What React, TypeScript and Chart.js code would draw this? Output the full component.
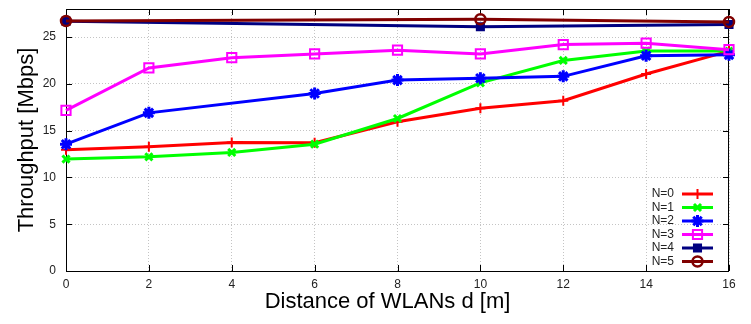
import React, { useEffect, useRef } from "react";
import { Chart, registerables } from "chart.js";
import { drawPoint } from "chart.js/helpers";

Chart.register(...registerables);

// ---- data ----
const distances = [0, 2, 4, 6, 8, 10, 12, 14, 16];
const distancesN2 = [0, 2, 6, 8, 10, 12, 14, 16];
const distancesN45 = [0, 10, 16];

const throughputN0 = [12.95, 13.27, 13.73, 13.7, 15.95, 17.4, 18.2, 21.05, 23.5];
const throughputN1 = [11.96, 12.2, 12.67, 13.55, 16.3, 20.1, 22.5, 23.5, 23.5];
const throughputN2 = [13.55, 16.9, 18.97, 20.4, 20.6, 20.8, 23.0, 23.1];
const throughputN3 = [17.17, 21.7, 22.8, 23.2, 23.6, 23.2, 24.2, 24.35, 23.65];
const throughputN4 = [26.7, 26.1, 26.35];
const throughputN5 = [26.72, 26.9, 26.62];

const seriesLabels = ["N=0", "N=1", "N=2", "N=3", "N=4", "N=5"];
const xTitle = "Distance of WLANs d [m]";
const yTitle = "Throughput [Mbps]";

const toPoints = (xs: number[], ys: number[]) => xs.map((x, i) => ({ x, y: ys[i] }));

const seriesDefs = [
  { xs: distances, ys: throughputN0, color: "#ff0000", style: "cross", r: 5, fill: "#ff0000", bw: 2 },
  { xs: distances, ys: throughputN1, color: "#00ff00", style: "crossRot", r: 5, fill: "#00ff00", bw: 3 },
  { xs: distancesN2, ys: throughputN2, color: "#0000ff", style: "star", r: 6, fill: "#0000ff", bw: 3 },
  { xs: distances, ys: throughputN3, color: "#ff00ff", style: "rect", r: 6.5, fill: "rgba(0,0,0,0)", bw: 2 },
  { xs: distancesN45, ys: throughputN4, color: "#000080", style: "rect", r: 5, fill: "#000080", bw: 2 },
  { xs: distancesN45, ys: throughputN5, color: "#800000", style: "circle", r: 5, fill: "rgba(0,0,0,0)", bw: 2.5 },
];

const FONT = '"Liberation Sans", Arial, sans-serif';

const framePlugin = {
  id: "frame",
  beforeDatasetsDraw(chart: any) {
    const { ctx, chartArea: a, scales } = chart;
    ctx.save();
    ctx.strokeStyle = "#000";
    ctx.lineWidth = 1;
    ctx.beginPath();
    const tl = 6;
    scales.x.ticks.forEach((t: any) => {
      const px = Math.round(scales.x.getPixelForValue(t.value)) + 0.5;
      ctx.moveTo(px, a.bottom);
      ctx.lineTo(px, a.bottom - tl);
      ctx.moveTo(px, a.top);
      ctx.lineTo(px, a.top + tl);
    });
    scales.y.ticks.forEach((t: any) => {
      const py = Math.round(scales.y.getPixelForValue(t.value)) + 0.5;
      ctx.moveTo(a.left, py);
      ctx.lineTo(a.left + tl, py);
      ctx.moveTo(a.right, py);
      ctx.lineTo(a.right - tl, py);
    });
    ctx.stroke();
    ctx.strokeRect(a.left + 0.5, a.top + 0.5, a.right - a.left - 1, a.bottom - a.top);
    // x-axis title, slightly left of centre as in the original
    ctx.fillStyle = "#000";
    ctx.font = `22px ${FONT}`;
    ctx.textAlign = "center";
    ctx.textBaseline = "middle";
    ctx.fillText(xTitle, (a.left + a.right) / 2 - 10, a.bottom + 31);
    ctx.restore();
  },
};

const legendPlugin = {
  id: "innerLegend",
  afterDatasetsDraw(chart: any) {
    const { ctx, chartArea: a } = chart;
    ctx.save();
    ctx.font = `12px ${FONT}`;
    ctx.textAlign = "right";
    ctx.textBaseline = "middle";
    chart.data.datasets.forEach((ds: any, i: number) => {
      const y = a.bottom - 77 + i * 13.5;
      ctx.fillStyle = "#222";
      ctx.fillText(ds.label, a.right - 55, y);
      ctx.strokeStyle = ds.borderColor;
      ctx.lineWidth = 3;
      ctx.beginPath();
      ctx.moveTo(a.right - 47, y);
      ctx.lineTo(a.right - 16, y);
      ctx.stroke();
      ctx.fillStyle = ds.pointBackgroundColor;
      ctx.lineWidth = ds.pointBorderWidth;
      drawPoint(
        ctx,
        { pointStyle: ds.pointStyle, radius: ds.pointRadius, borderWidth: ds.pointBorderWidth, rotation: 0 },
        a.right - 31.5,
        y
      );
    });
    ctx.restore();
  },
};

export default function App() {
  const ref = useRef<HTMLCanvasElement | null>(null);
  useEffect(() => {
    if (!ref.current) return;
    const chart = new Chart(ref.current, {
      type: "line",
      data: {
        datasets: seriesDefs.map((s, i) => ({
          label: seriesLabels[i],
          data: toPoints(s.xs, s.ys),
          borderColor: s.color,
          backgroundColor: s.color,
          borderWidth: 3,
          pointStyle: s.style as any,
          pointRadius: s.r,
          pointHoverRadius: s.r,
          pointBorderWidth: s.bw,
          pointBackgroundColor: s.fill,
          pointBorderColor: s.color,
          tension: 0,
          clip: false as any,
          order: 5 - i,
        })),
      },
      options: {
        animation: false,
        responsive: false,
        devicePixelRatio: 1,
        layout: { padding: { left: 0, right: 22, top: 6, bottom: 0 } },
        plugins: { legend: { display: false }, tooltip: { enabled: false } },
        events: [],
        scales: {
          x: {
            type: "linear",
            min: 0,
            max: 16,
            ticks: { stepSize: 2, color: "#222", font: { family: FONT, size: 12 }, padding: 6, maxRotation: 0 },
            grid: { color: "#c4c4c4", drawTicks: false, lineWidth: 1 },
            border: { display: false, dash: [1, 2] },
            title: { display: false },
            afterFit: (s: any) => {
              s.height = 53;
              s.paddingLeft = 0;
              s.paddingRight = 0;
            },
          },
          y: {
            type: "linear",
            min: 0,
            max: 28,
            ticks: { stepSize: 5, includeBounds: false, color: "#222", font: { family: FONT, size: 12 }, padding: 10 },
            grid: { color: "#c4c4c4", drawTicks: false, lineWidth: 1 },
            border: { display: false, dash: [1, 2] },
            title: { display: true, text: yTitle, color: "#000", font: { family: FONT, size: 22 }, padding: { top: 14, bottom: 0 } },
            afterFit: (s: any) => {
              s.width = 66;
              s.paddingTop = 0;
              s.paddingBottom = 0;
            },
          },
        },
      },
      plugins: [framePlugin, legendPlugin],
    });
    return () => chart.destroy();
  }, []);
  return (
    <div style={{ position: "absolute", left: 0, top: 0, width: 751, height: 324, background: "#fff" }}>
      <canvas ref={ref} width={751} height={324} />
    </div>
  );
}
